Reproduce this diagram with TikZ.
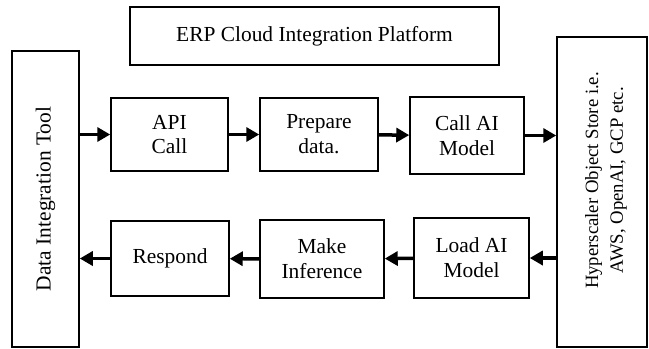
\documentclass[tikz,border=0pt]{standalone}
\usepackage{fontspec}
\setmainfont{Liberation Serif}
\usetikzlibrary{arrows.meta}
\begin{document}
\begin{tikzpicture}[x=1bp,y=-1bp,
  txt/.style={font=\fontsize{21.5}{25}\selectfont},
  box/.style={draw, line width=1.5bp, align=center, inner sep=0pt, txt},
  flow/.style={line width=3.5bp, -{Triangle[length=13bp,width=14bp]}}]
\useasboundingbox (0,0) rectangle (649,348);

% platform title
\node[box, minimum width=369bp, minimum height=58bp] (title) at (314.5,36) {ERP Cloud Integration Platform};

% side columns
\node[box, minimum width=67bp, minimum height=296bp] (dit) at (45.5,199) {};
\node[rotate=90, txt] (ditlabel) at (dit.center) {Data Integration Tool};
\node[box, minimum width=90bp, minimum height=310bp] (hos) at (602,192) {};
\node[rotate=90, align=center, font=\fontsize{18.8}{25}\selectfont] (hoslabel) at (606,180.5) {Hyperscaler Object Store i.e.\\AWS, OpenAI, GCP etc.};

% upper row
\node[box, minimum width=117bp, minimum height=73bp] (api) at (169.5,134.5) {API\\Call};
\node[box, minimum width=118bp, minimum height=73bp] (prep) at (319,134.5) {Prepare\\data.};
\node[box, minimum width=114bp, minimum height=77bp] (callai) at (467,135.5) {Call AI\\Model};

% lower row
\node[box, minimum width=118bp, minimum height=75bp] (resp) at (170,258.5) {Respond};
\node[box, minimum width=124bp, minimum height=78bp] (make) at (322,259) {Make\\Inference};
\node[box, minimum width=115bp, minimum height=80bp] (load) at (471.5,258) {Load AI\\Model};

% outbound flow
\draw[flow] (api.west -| dit.east) -- (api.west);
\draw[flow] (api) -- (prep);
\draw[flow] (prep) -- (callai);
\draw[flow] (callai.east) -- (callai.east -| hos.west);

% return flow
\draw[flow] (load.east -| hos.west) -- (load.east);
\draw[flow] (load) -- (make);
\draw[flow] (make) -- (resp);
\draw[flow] (resp.west) -- (resp.west -| dit.east);
\end{tikzpicture}
\end{document}
